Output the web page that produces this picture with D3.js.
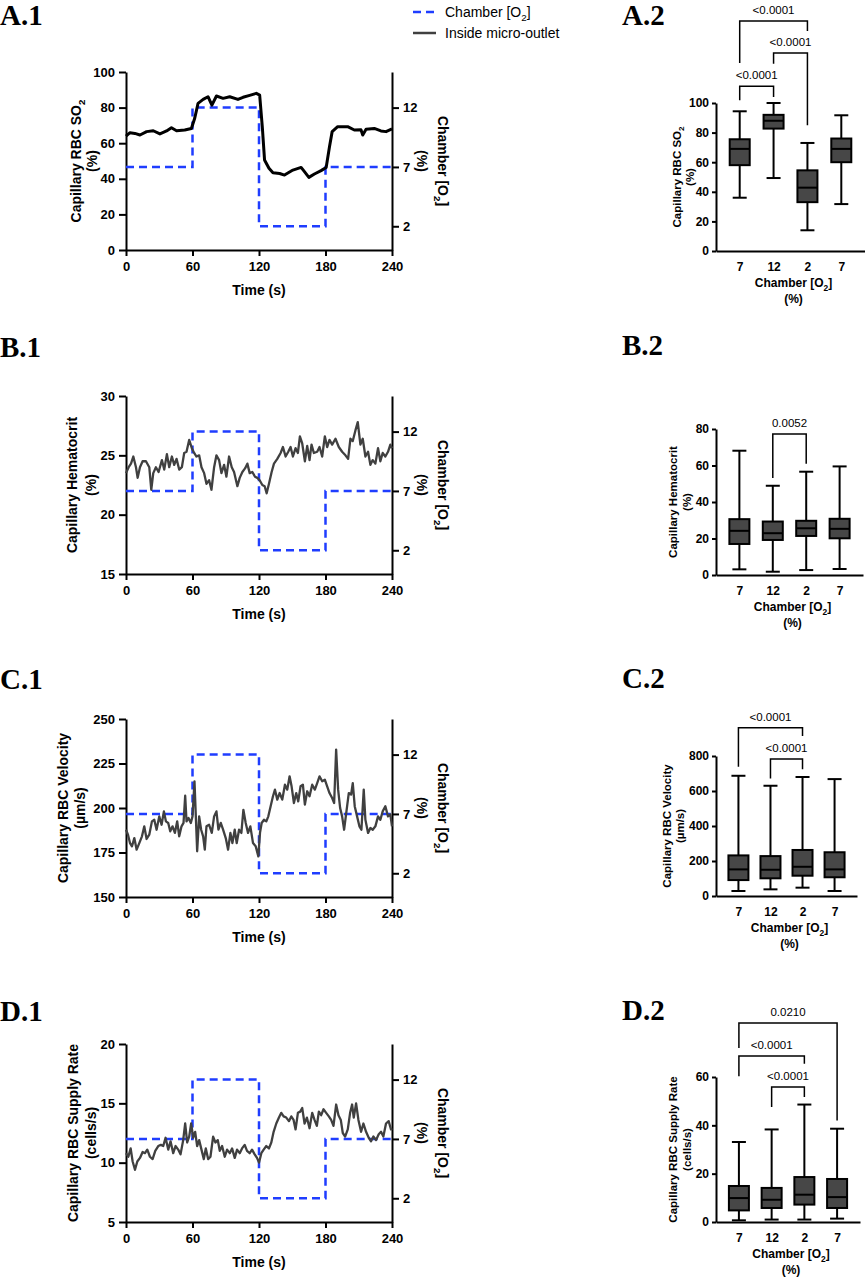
<!DOCTYPE html>
<html>
<head>
<meta charset="utf-8">
<script src="https://cdn.jsdelivr.net/npm/d3@7"></script>
<style>
  body { margin: 0; background: #fff; }
  svg { display: block; font-family: "Liberation Sans", Arial, sans-serif; }
  .axis path, .axis line { stroke: #000; stroke-width: 2; }
  .axis text { font-weight: bold; fill: #000; }
</style>
</head>
<body>
<div id="fig"></div>
<script>
// Chamber O2 step protocol (%), same for all four traces
const chamberTimes = [0, 60, 120, 180, 240];
const chamberO2 = [7, 12, 2, 7, 7];

// Traces: [time (s), value]
const so2Trace = [[0,64],[3.6,65.9],[8,65.5],[12.6,64.6],[18.6,66.5],[24.6,67],[30.6,65.2],[36.6,66.9],[41,68.7],[45.6,67],[53,67.4],[59,68.3],[62,74],[65,82.4],[69.6,84.6],[74,86.1],[77.5,81.4],[81.6,86.5],[87.6,85.2],[93.6,86.1],[101,84.6],[105.6,85.8],[111.6,86.9],[117.6,88],[120.6,87],[123,69],[125,50.6],[129,45.9],[132.6,43.4],[138.6,43],[143,42.1],[150.6,44.9],[158,46.4],[161,44],[165,40.8],[170,42.7],[176,44.6],[180.6,46.4],[183.6,58],[186,66.5],[191,69.3],[200,69.3],[206,67.4],[212,67.5],[213.6,64.6],[216.6,67.8],[224,68.3],[230,66.9],[234.6,66.5],[240,68]];

const hctTrace = [[0,23.5],[2.4,24.0],[4.5,24.3],[6.6,24.9],[9,24.0],[10.5,23.1],[12.6,24.0],[15,24.5],[18,24.5],[21,24.0],[22.8,22.1],[24.6,23.5],[27,24.0],[29.4,23.6],[32.4,24.6],[34.5,23.8],[36.9,25.1],[39,24.0],[41.4,24.9],[43.5,24.2],[45.6,24.7],[48,23.8],[50.4,24.0],[52.5,25.2],[54.6,25.3],[57,26.3],[59.4,25.6],[61.5,25.2],[63.6,24.9],[66,25.0],[68.1,24.0],[70.5,23.5],[72.6,22.6],[75,22.9],[77.1,22.1],[79.5,24.0],[81.6,25.0],[84,24.6],[86.1,23.5],[88.5,24.2],[90.6,23.2],[93,24.9],[95.4,24.0],[97.5,23.6],[100.5,22.4],[102.6,23.1],[105,23.6],[107.4,23.9],[109.5,24.3],[111.6,23.5],[114,23.6],[116.4,23.2],[118.5,23.1],[120.6,22.9],[123,22.5],[125.1,22.4],[126.9,21.8],[129,22.6],[131.4,23.6],[133.5,24.3],[136.5,24.7],[139.5,25.2],[141.6,25.7],[144,24.9],[146.4,25.3],[148.5,25.7],[150.6,24.9],[153,25.6],[155.1,25.2],[156.9,26.6],[159,26.0],[161.4,24.5],[163.5,25.8],[165.6,24.6],[167.4,25.9],[169.5,25.2],[172.5,25.3],[174.6,25.7],[177,24.9],[179.4,26.6],[181.5,25.7],[183.6,26.3],[186,25.9],[189,26.4],[192,25.7],[195,25.3],[198,25.0],[200.4,24.7],[202.5,26.4],[204.6,26.2],[207,27.1],[209.1,27.8],[211.5,25.9],[213.6,26.4],[216,24.9],[218.4,25.3],[220.5,24.2],[222.6,24.6],[225,24.3],[227.4,25.6],[229.5,24.5],[231.6,25.2],[234,24.9],[236.4,25.3],[238.5,25.9],[240,25.6]];

const velTrace = [[0,187.8],[1.8,185],[3.6,180.3],[5.4,178.5],[7.5,183.1],[9.6,176.6],[12,180.3],[14.4,184.1],[16.5,189.7],[18.6,182.6],[21,185],[23.4,192.5],[25.5,193.4],[27.6,187.8],[30,195.3],[32.1,190.6],[34.2,198.1],[36,192.5],[38.1,191.6],[39.9,186.9],[42,189.7],[44.1,186],[46.2,192.5],[48,184.1],[50.1,189.7],[51.9,191.6],[53.4,206.9],[54.6,192.5],[56.4,194.4],[58.5,191.6],[60,195.3],[61.8,215],[63,195.3],[64.2,175.7],[66,195.3],[67.8,187.8],[69.6,184.1],[71.1,176.6],[72.6,189.7],[75,190.6],[77.4,186],[79.5,195.3],[81.6,198.1],[83.4,187.8],[85.5,191.6],[87.6,187.8],[90,183.1],[92.1,176.6],[94.2,186],[96,180.3],[98.1,187.8],[99.9,180.3],[102,187.8],[104.1,186],[105.9,199],[108,191.6],[110.1,186],[112.2,189.7],[114.6,180.3],[117,178.5],[119.4,172.8],[120.9,186],[122.4,191.6],[124.5,193.4],[126.6,192.5],[128.4,195.3],[130.5,201],[132.6,206.6],[134.4,210.3],[136.5,204.7],[138.6,208.4],[141,204.7],[143.4,213.1],[145.5,210.3],[147.6,217.8],[149.4,212.2],[151.5,202.8],[153.6,208.4],[155.4,203.7],[157.5,212.2],[159.6,213.1],[161.4,201.9],[163.5,209.4],[165.6,206.6],[168,213.1],[170.4,210.3],[172.5,214],[174.6,217.8],[177,215],[179.4,215.9],[181.5,212.2],[183.6,208.4],[186,205.6],[187.8,202.8],[189.6,232.8],[191.4,210.3],[193.2,200],[195,195.3],[196.8,187.8],[198.9,198.1],[201,208.4],[203.1,207.5],[204.6,214],[206.4,200.9],[208.5,195.3],[210.6,189.7],[212.4,187.8],[214.5,210.3],[216,193.4],[218.4,186],[220.5,188.8],[222.6,187.8],[225,189.7],[227.4,195.3],[229.5,193.4],[231.6,198.1],[234,201],[236.4,195.3],[238.5,196.3],[240,189.7]];

const supplyTrace = [[0,10.8],[2.1,10.5],[4.2,11.2],[6,10.1],[8.1,9.4],[10.2,10.1],[12.6,10.4],[15,10.9],[17.1,10.8],[19.2,11.1],[21.6,10.5],[24,10.3],[26.4,11.0],[29.1,11.4],[31.5,11.5],[33.6,11.4],[35.7,12.1],[38.1,11.1],[40.2,11.8],[42.6,10.8],[44.7,11.4],[47.1,11.1],[49.2,10.7],[51.6,11.9],[53.4,13.3],[55.2,11.7],[57,12.2],[58.8,13.3],[60.6,12.1],[62.4,12.6],[64.2,11.4],[66,11.9],[68.1,11.1],[70.2,10.3],[72,11.2],[74.1,10.3],[76.2,10.5],[78.6,12.2],[80.7,11.7],[82.8,11.9],[84.6,11.0],[86.7,11.4],[89.1,10.5],[91.2,11.1],[93.6,10.8],[95.7,11.2],[98.1,10.4],[100.2,11.1],[102.6,10.8],[104.7,11.2],[107.1,11.5],[109.2,11.0],[111.6,10.8],[113.7,11.1],[116.1,10.7],[118.2,10.4],[120,10.0],[122.1,10.8],[124.2,11.1],[126.6,11.4],[129,11.2],[131.1,11.7],[133.2,12.6],[135.6,13.3],[138,13.8],[140.1,14.2],[142.2,13.9],[144.6,13.8],[147,13.5],[149.1,13.9],[151.2,13.6],[153,12.8],[155.1,14.2],[157.2,14.3],[159,14.6],[161.1,13.3],[163.2,13.8],[165.6,12.9],[168,14.2],[170.1,13.6],[172.2,13.1],[174,14.3],[176.1,14.0],[178.2,14.5],[180.6,14.2],[183,13.9],[185.1,13.6],[187.2,13.1],[189.6,14.9],[191.7,14.0],[193.8,13.6],[195.6,12.5],[197.7,12.2],[200.1,12.8],[202.2,14.2],[204,14.9],[205.5,13.8],[207.6,15.0],[209.7,13.6],[212.1,12.6],[214.2,13.3],[216.6,12.6],[219,12.1],[221.1,11.8],[223.2,12.2],[225.6,11.9],[228,12.4],[230.1,12.6],[232.2,12.2],[234.6,13.3],[237,13.5],[239.1,12.8],[240,12.9]];

// Box plot groups (chamber O2 %) and stats: [min, q1, median, q3, max]
const o2Groups = ['7', '12', '2', '7'];
const so2Box = [[36, 58, 69, 75.5, 94.4], [49.3, 82.7, 88, 92, 100], [14, 33, 42.8, 54.5, 73], [31.7, 60, 69, 76, 91.7]];
const hctBox = [[3.1, 17, 24.2, 30.6, 68.1], [1.8, 19.2, 22.9, 29.3, 48.9], [2.7, 21.4, 25.6, 29.7, 56.6], [3.3, 20.1, 25.3, 30.8, 59.5]];
const velBox = [[28.6, 91, 152, 232, 687], [38, 101, 150, 228, 630], [47.6, 116, 167, 263, 680], [28.6, 107, 152, 250, 668]];
const supplyBox = [[0.7, 4.8, 9.9, 14.9, 33.1], [1, 5.8, 9.2, 14.1, 38.3], [1, 7.2, 11.3, 18.6, 48.6], [1.4, 5.8, 10.3, 17.8, 38.6]];

// Significance brackets: [from group, to group, bracket level, left leg end, right leg end, p]
const so2Brackets = [[0, 1, 111.3, 101.8, 104, '<0.0001'], [1, 2, 133.8, 126.6, 85, '<0.0001'], [0, 2, 155.4, 127, 148.6, '<0.0001']];
const hctBrackets = [[1, 2, 77.3, 53.1, 61, '0.0052']];
const velBrackets = [[0, 2, 962, 739, 914, '<0.0001'], [1, 2, 783, 672, 724, '<0.0001']];
const supplyBrackets = [[0, 3, 82.3, 72, 42, '0.0210'], [0, 2, 68.7, 60.3, 65.5, '<0.0001'], [1, 2, 55.9, 47.6, 51.7, '<0.0001']];

const BLUE = '#1f3dff';

const svg = d3.select('#fig').append('svg')
  .attr('width', 865).attr('height', 1278)
  .attr('viewBox', [0, 0, 865, 1278]);

// text with "_2" style subscripts
function richText(sel, str, size) {
  let shift = 0;
  str.split(/(_\d)/).forEach(b => {
    if (!b) return;
    if (b[0] === '_') {
      sel.append('tspan').attr('font-size', size * 0.7).attr('dy', size * 0.3).text(b.slice(1));
      shift = size * 0.3;
    } else {
      const t = sel.append('tspan').text(b);
      if (shift) { t.attr('dy', -shift); shift = 0; }
    }
  });
  return sel;
}

function vLabel(x, y, str, size, angle, weight) {
  const t = svg.append('text')
    .attr('transform', `translate(${x},${y}) rotate(${angle})`)
    .attr('text-anchor', 'middle').attr('dy', '0.35em')
    .attr('font-size', size).attr('font-weight', weight || 'bold');
  richText(t, str, size);
}

function panelLabel(x, y, txt) {
  svg.append('text').attr('x', x).attr('y', y)
    .attr('font-family', '"Liberation Serif", "Times New Roman", serif')
    .attr('font-weight', 'bold').attr('font-size', 29).text(txt);
}

// legend
const legend = svg.append('g');
legend.append('line').attr('x1', 413).attr('x2', 436).attr('y1', 12).attr('y2', 12)
  .attr('stroke', BLUE).attr('stroke-width', 2.5).attr('stroke-dasharray', '8,5');
richText(legend.append('text').attr('x', 445).attr('y', 17).attr('font-size', 14), 'Chamber [O_2]', 14);
legend.append('line').attr('x1', 413).attr('x2', 436).attr('y1', 33).attr('y2', 33)
  .attr('stroke', '#404040').attr('stroke-width', 2.5);
legend.append('text').attr('x', 445).attr('y', 38).attr('font-size', 14).text('Inside micro-outlet');

const tracePanels = [
  { name: 'A.1', labelY: 25, top: 72, domain: [0, 100], ticks: [0, 20, 40, 60, 80, 100], data: so2Trace, color: '#000', width: 3, title: ['Capillary RBC SO_2', '(%)'], titleX: [76, 92] },
  { name: 'B.1', labelY: 357, top: 396, domain: [15, 30], ticks: [15, 20, 25, 30], data: hctTrace, color: '#404040', width: 2.3, title: ['Capillary Hematocrit', '(%)'], titleX: [72, 91] },
  { name: 'C.1', labelY: 689, top: 719, domain: [150, 250], ticks: [150, 175, 200, 225, 250], data: velTrace, color: '#404040', width: 2.3, title: ['Capillary RBC Velocity', '(\u00b5m/s)'], titleX: [63, 80] },
  { name: 'D.1', labelY: 1021, top: 1044, domain: [5, 20], ticks: [5, 10, 15, 20], data: supplyTrace, color: '#404040', width: 2.3, title: ['Capillary RBC Supply Rate', '(cells/s)'], titleX: [73, 91] }
];

const boxPanels = [
  { name: 'A.2', labelY: 25, top: 103, bottom: 251, xEnd: 865, domain: [0, 100], ticks: [0, 20, 40, 60, 80, 100], stats: so2Box, brackets: so2Brackets, title: ['Capillary RBC SO_2', '(%)'], titleX: [677, 690] },
  { name: 'B.2', labelY: 355, top: 429, bottom: 575, xEnd: 863, domain: [0, 80], ticks: [0, 20, 40, 60, 80], stats: hctBox, brackets: hctBrackets, title: ['Capillary Hematocrit', '(%)'], titleX: [673, 687] },
  { name: 'C.2', labelY: 688, top: 756, bottom: 896, xEnd: 857, domain: [0, 800], ticks: [0, 200, 400, 600, 800], stats: velBox, brackets: velBrackets, title: ['Capillary RBC Velocity', '(\u00b5m/s)'], titleX: [667, 680] },
  { name: 'D.2', labelY: 1020, top: 1077, bottom: 1222, xEnd: 860, domain: [0, 60], ticks: [0, 20, 40, 60], stats: supplyBox, brackets: supplyBrackets, title: ['Capillary RBC Supply Rate', '(cells/s)'], titleX: [673, 687] }
];

function drawTrace(p) {
  const bottom = p.top + 178;
  const x = d3.scaleLinear().domain([0, 240]).range([126, 392]);
  const y = d3.scaleLinear().domain(p.domain).range([bottom, p.top]);
  const yR = d3.scaleLinear().domain([0, 15]).range([bottom, p.top]);

  const g = svg.append('g');
  g.append('g').attr('class', 'axis').attr('transform', `translate(0,${bottom})`)
    .call(d3.axisBottom(x).tickValues([0, 60, 120, 180, 240]).tickSize(6).tickSizeOuter(0).tickPadding(6))
    .attr('font-size', 13).attr('font-family', null);
  g.append('g').attr('class', 'axis').attr('transform', 'translate(126,0)')
    .call(d3.axisLeft(y).tickValues(p.ticks).tickSize(7).tickSizeOuter(0).tickPadding(4))
    .attr('font-size', 13).attr('font-family', null);
  g.append('g').attr('class', 'axis').attr('transform', 'translate(392,0)')
    .call(d3.axisRight(yR).tickValues([2, 7, 12]).tickSize(7).tickSizeOuter(0).tickPadding(4))
    .attr('font-size', 13).attr('font-family', null);

  const chamber = chamberTimes.map((t, i) => [t, chamberO2[i]]);
  g.append('path').datum(chamber)
    .attr('fill', 'none').attr('stroke', BLUE).attr('stroke-width', 2.5)
    .attr('stroke-dasharray', '8,5')
    .attr('d', d3.line().x(d => x(d[0])).y(d => yR(d[1])).curve(d3.curveStepAfter));

  g.append('path').datum(p.data)
    .attr('fill', 'none').attr('stroke', p.color).attr('stroke-width', p.width)
    .attr('stroke-linejoin', 'round')
    .attr('d', d3.line().x(d => x(d[0])).y(d => y(d[1])));

  const mid = (p.top + bottom) / 2;
  vLabel(p.titleX[0], mid, p.title[0], 14, -90);
  vLabel(p.titleX[1], mid, p.title[1], 14, -90);
  vLabel(422, mid, '(%)', 14, 90);
  vLabel(443, mid, 'Chamber [O_2]', 14, 90);
  svg.append('text').attr('x', 259).attr('y', bottom + 45).attr('text-anchor', 'middle')
    .attr('font-size', 14).attr('font-weight', 'bold').text('Time (s)');
  panelLabel(0, p.labelY, p.name);
}

function drawBox(p) {
  const x = d3.scalePoint().domain(d3.range(o2Groups.length)).range([716, p.xEnd]).padding(0.7);
  const y = d3.scaleLinear().domain(p.domain).range([p.bottom, p.top]);
  const g = svg.append('g');

  g.append('g').attr('class', 'axis').attr('transform', `translate(0,${p.bottom})`)
    .call(d3.axisBottom(x).tickFormat(i => o2Groups[i]).tickSize(0).tickPadding(11))
    .attr('font-size', 12).attr('font-family', null);
  g.append('g').attr('class', 'axis').attr('transform', 'translate(716,0)')
    .call(d3.axisLeft(y).tickValues(p.ticks).tickSize(4).tickSizeOuter(0).tickPadding(3))
    .attr('font-size', 12).attr('font-family', null);

  const boxes = g.selectAll('g.box').data(p.stats).join('g').attr('class', 'box')
    .attr('transform', (d, i) => `translate(${x(i)},0)`);
  boxes.append('line').attr('y1', d => y(d[0])).attr('y2', d => y(d[4]))
    .attr('stroke', '#000').attr('stroke-width', 2);
  boxes.append('line').attr('x1', -7).attr('x2', 7).attr('y1', d => y(d[0])).attr('y2', d => y(d[0]))
    .attr('stroke', '#000').attr('stroke-width', 2);
  boxes.append('line').attr('x1', -7).attr('x2', 7).attr('y1', d => y(d[4])).attr('y2', d => y(d[4]))
    .attr('stroke', '#000').attr('stroke-width', 2);
  boxes.append('rect').attr('x', -10).attr('width', 20)
    .attr('y', d => y(d[3])).attr('height', d => y(d[1]) - y(d[3]))
    .attr('fill', '#474747').attr('stroke', '#000').attr('stroke-width', 2);
  boxes.append('line').attr('x1', -10).attr('x2', 10).attr('y1', d => y(d[2])).attr('y2', d => y(d[2]))
    .attr('stroke', '#000').attr('stroke-width', 2);

  p.brackets.forEach(b => {
    const x1 = x(b[0]), x2 = x(b[1]), yt = y(b[2]);
    g.append('path')
      .attr('d', `M${x1},${y(b[3])}V${yt}H${x2}V${y(b[4])}`)
      .attr('fill', 'none').attr('stroke', '#000').attr('stroke-width', 1.5);
    g.append('text').attr('x', (x1 + x2) / 2).attr('y', yt - 7)
      .attr('text-anchor', 'middle').attr('font-size', 11.5).text(b[5]);
  });

  const mid = (p.top + p.bottom) / 2;
  vLabel(p.titleX[0], mid, p.title[0], 11.5, -90);
  vLabel(p.titleX[1], mid, p.title[1], 11.5, -90);
  const cx = (716 + p.xEnd) / 2 + 3;
  richText(g.append('text').attr('x', cx).attr('y', p.bottom + 36).attr('text-anchor', 'middle')
    .attr('font-size', 12).attr('font-weight', 'bold'), 'Chamber [O_2]', 12);
  g.append('text').attr('x', cx).attr('y', p.bottom + 52).attr('text-anchor', 'middle')
    .attr('font-size', 12).attr('font-weight', 'bold').text('(%)');
  panelLabel(622, p.labelY, p.name);
}

tracePanels.forEach(drawTrace);
boxPanels.forEach(drawBox);
</script>
</body>
</html>
